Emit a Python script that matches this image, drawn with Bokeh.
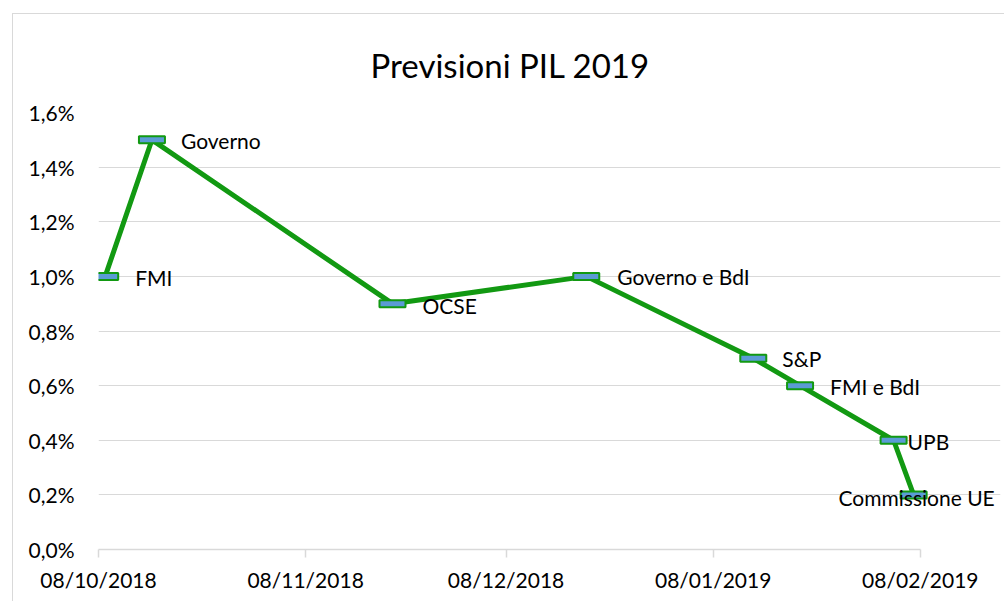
import pandas as pd
from bokeh.plotting import figure
from bokeh.models import (ColumnDataSource, Range1d, FixedTicker, DatetimeTickFormatter,
                          CustomJSTickFormatter, LabelSet)
from bokeh.core.properties import value
from bokeh.embed import file_html
from bokeh.resources import INLINE

# ---- data ----
dates = ["2018-10-09", "2018-10-16", "2018-11-21", "2018-12-20",
         "2019-01-14", "2019-01-21", "2019-02-04", "2019-02-07"]
values = [1.0, 1.5, 0.9, 1.0, 0.7, 0.6, 0.4, 0.2]  # percent
labels = ["FMI", "Governo", "OCSE", "Governo e BdI",
          "S&P", "FMI e BdI", "UPB", "Commissione UE"]
x_tick_dates = ["2018-10-08", "2018-11-08", "2018-12-08", "2019-01-08", "2019-02-08"]
y_ticks = [0.0, 0.2, 0.4, 0.6, 0.8, 1.0, 1.2, 1.4, 1.6]
title = "Previsioni PIL 2019"

# ---- label styling (screen offsets) ----
label_dx = [30, 29, 30, 31, 29, 30, 14, 3]
label_dy = [-1, -1, -2, 0, 0, -1, -1, -3]
label_align = ["left"] * 7 + ["center"]

FONT = "Lato"
GREEN = "#129912"
GRID = "#d9d9d9"

src = ColumnDataSource(dict(
    x=pd.to_datetime(dates), y=values, label=labels,
    dx=label_dx, dy=label_dy, align=label_align))

x_start = pd.Timestamp(x_tick_dates[0])
x_end = pd.Timestamp(x_tick_dates[-1])
x_view_end = x_end + pd.Timedelta(days=12)  # room for labels to the right
ms = lambda t: t.value // 10**6

p = figure(width=992, height=588, output_backend="svg", toolbar_location=None,
           x_axis_type="datetime",
           x_range=Range1d(x_start, x_view_end),
           y_range=Range1d(y_ticks[0], y_ticks[-1]),
           min_border_left=85, min_border_right=5, min_border_top=98, min_border_bottom=53,
           styles={"margin-left": "12px", "margin-top": "13px",
                   "border-left": "1.5px solid #d9d9d9", "border-top": "1.5px solid #d9d9d9"})

p.outline_line_color = None
p.background_fill_color = "white"
p.border_fill_color = "white"

# title
p.title.text = title
p.title.align = "left"
p.title.offset = 272
p.title.text_font = FONT
p.title.text_font_size = "33px"
p.title.text_font_style = "normal"
p.title.text_color = "#000000"
p.title.standoff = 56

# grid
p.xgrid.grid_line_color = None
p.ygrid.grid_line_color = GRID
p.ygrid.grid_line_width = 1
p.ygrid.ticker = FixedTicker(ticks=y_ticks)
p.ygrid.bounds = (ms(x_start), ms(x_end))

# y axis
p.yaxis.ticker = FixedTicker(ticks=y_ticks)
p.yaxis.formatter = CustomJSTickFormatter(code="return tick.toFixed(1).replace('.', ',') + '%';")
p.yaxis.axis_line_color = None
p.yaxis.major_tick_line_color = None
p.yaxis.minor_tick_line_color = None
p.yaxis.major_label_standoff = 18
p.yaxis.major_label_text_font = FONT
p.yaxis.major_label_text_font_size = "21px"
p.yaxis.major_label_text_color = "#000000"

# x axis
p.xaxis.ticker = FixedTicker(ticks=[ms(pd.Timestamp(d)) for d in x_tick_dates])
fmt = "%d/%m/%Y"
p.xaxis.formatter = DatetimeTickFormatter(microseconds=fmt, milliseconds=fmt, seconds=fmt,
                                          minsec=fmt, minutes=fmt, hourmin=fmt, hours=fmt,
                                          days=fmt, months=fmt, years=fmt)
p.xaxis.bounds = (ms(x_start), ms(x_end))
p.xaxis.axis_line_color = GRID
p.xaxis.axis_line_width = 1.5
p.xaxis.major_tick_line_color = GRID
p.xaxis.major_tick_line_width = 1.5
p.xaxis.major_tick_in = 0
p.xaxis.major_tick_out = 8
p.xaxis.minor_tick_line_color = None
p.xaxis.major_label_standoff = 9
p.xaxis.major_label_text_font = FONT
p.xaxis.major_label_text_font_size = "21px"
p.xaxis.major_label_text_color = "#000000"

# series
p.line("x", "y", source=src, line_color=GREEN, line_width=5)
p.rect("x", "y", width=26, height=7, width_units="screen", height_units="screen",
       source=src, fill_color="#5b9bd5", line_color=GREEN, line_width=2)

p.add_layout(LabelSet(x="x", y="y", text="label", source=src,
                      x_offset="dx", y_offset="dy", text_align="align",
                      text_baseline="middle", text_font=value(FONT),
                      text_font_size="21px", text_color="#000000"))

open("out.html", "w").write(file_html(p, INLINE))
